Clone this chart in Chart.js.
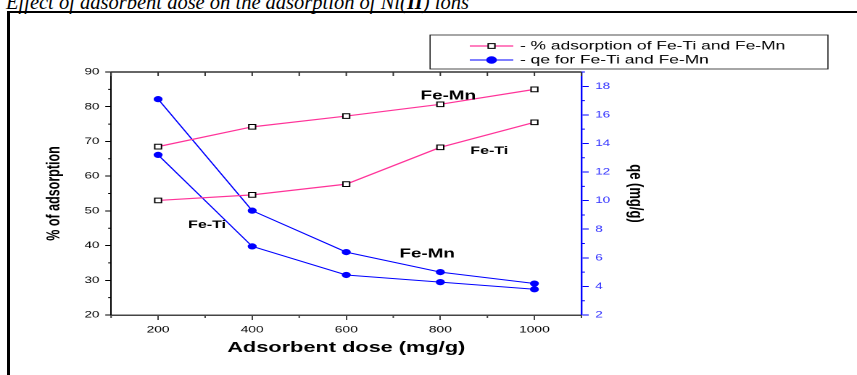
<!DOCTYPE html>
<html>
<head>
<meta charset="utf-8">
<script src="https://cdn.jsdelivr.net/npm/chart.js@4.4.0/dist/chart.umd.min.js"></script>
<style>
  html, body { margin: 0; padding: 0; background: #fff; }
  body { width: 857px; height: 375px; position: relative; overflow: hidden; }
  #caption { position: absolute; left: 6px; top: -8px; white-space: nowrap;
             font: italic 20.5px/20px "Liberation Serif", "Times New Roman", serif; color: #000; }
  #frame { position: absolute; left: 7px; top: 11px; right: -5px; bottom: -5px;
           border-top: 2px solid #000; border-left: 3px solid #000; }
  /* the source figure was stretched sideways, so the canvas is too */
  #chart { position: absolute; left: 0; top: 0; transform: scaleX(1.45); transform-origin: 0 0; }
</style>
</head>
<body>
<div id="caption">Effect of adsorbent dose on the adsorption of Ni(<b>II</b>) ions</div>
<div id="frame"></div>
<canvas id="chart" width="591" height="375"></canvas>
<script>
// ===== DATA =====
const doses = [200, 400, 600, 800, 1000];
const adsFeMn = [68.5, 74.2, 77.3, 80.7, 85.0];
const adsFeTi = [53.0, 54.6, 57.7, 68.3, 75.5];
const qeFeMn = [17.1, 9.3, 6.4, 5.0, 4.2];
const qeFeTi = [13.2, 6.8, 4.8, 4.3, 3.8];

const xTicks = [200, 400, 600, 800, 1000];
const xMinor = [100, 300, 500, 700, 900, 1100];
const leftTicks = [20, 30, 40, 50, 60, 70, 80, 90];
const leftMinor = [25, 35, 45, 55, 65, 75, 85];
const rightTicks = [2, 4, 6, 8, 10, 12, 14, 16, 18];
const rightMinor = [3, 5, 7, 9, 11, 13, 15, 17, 19];

const legendLabels = ['- % adsorption of Fe-Ti and Fe-Mn', '- qe for Fe-Ti and Fe-Mn'];

// curve names, anchored in data units (x axis / left axis)
const curveText = ['Fe-Mn', 'Fe-Ti', 'Fe-Ti', 'Fe-Mn'];
const curveX = [817, 904, 304, 772];
const curveY = [83.1, 67.2, 45.9, 37.6];

// ===== STYLE =====
const PINK = '#ff3399';
const BLUE = '#0000ff';
const FAM = '"Liberation Sans", Arial, sans-serif';
Chart.defaults.font.family = FAM;

const pts = (ys) => doses.map((d, i) => ({ x: d, y: ys[i] }));
const setTicks = (list) => (s) => { s.ticks = list.map(v => ({ value: v })); };
const plain = (v) => String(v);

const pinkSet = (label, ys) => ({
  label, data: pts(ys), yAxisID: 'y',
  borderColor: PINK, borderWidth: 1.2,
  pointStyle: 'rect', pointRadius: 3.3,
  pointBackgroundColor: '#fff', pointBorderColor: '#000', pointBorderWidth: 1,
});
const blueSet = (label, ys) => ({
  label, data: pts(ys), yAxisID: 'y1',
  borderColor: BLUE, borderWidth: 1,
  pointStyle: 'circle', pointRadius: 2.6,
  pointBackgroundColor: BLUE, pointBorderColor: BLUE, pointBorderWidth: 1,
});

// ===== EXTRA DRAWING: minor ticks, top border, legend, curve names =====
const extras = {
  id: 'extras',
  afterDraw(chart) {
    const ctx = chart.ctx;
    const { x, y, y1 } = chart.scales;
    const a = chart.chartArea;
    ctx.save();

    // top border with inward ticks
    ctx.strokeStyle = '#333';
    ctx.lineWidth = 1.5;
    ctx.beginPath();
    ctx.moveTo(a.left, a.top); ctx.lineTo(a.right, a.top);
    ctx.stroke();
    ctx.lineWidth = 1;
    ctx.beginPath();
    [...xTicks, ...xMinor].forEach(v => {
      const p = x.getPixelForValue(v);
      ctx.moveTo(p, a.top); ctx.lineTo(p, a.top + 4);
    });
    ctx.stroke();

    // minor ticks
    ctx.strokeStyle = '#000';
    ctx.beginPath();
    leftMinor.forEach(v => { const p = y.getPixelForValue(v); ctx.moveTo(a.left - 2, p); ctx.lineTo(a.left, p); });
    ctx.stroke();
    ctx.strokeStyle = '#444';
    ctx.beginPath();
    xMinor.forEach(v => { const p = x.getPixelForValue(v); ctx.moveTo(p, a.bottom); ctx.lineTo(p, a.bottom + 3); });
    ctx.stroke();
    ctx.strokeStyle = BLUE;
    ctx.beginPath();
    rightMinor.forEach(v => { const p = y1.getPixelForValue(v); ctx.moveTo(a.right, p); ctx.lineTo(a.right + 2.4, p); });
    ctx.stroke();

    // legend
    const lx = 296.6, ly = 35, lw = 274.4, lh = 34;
    ctx.fillStyle = '#fff';
    ctx.fillRect(lx, ly, lw, lh);
    ctx.strokeStyle = '#222';
    ctx.lineWidth = 0.8;
    ctx.strokeRect(lx, ly, lw, lh);
    const ds = chart.data.datasets;
    [ds[0], ds[2]].forEach((d, i) => {
      const ry = 46 + i * 14;
      ctx.strokeStyle = d.borderColor;
      ctx.lineWidth = d.borderWidth;
      ctx.beginPath();
      ctx.moveTo(324, ry); ctx.lineTo(354, ry);
      ctx.stroke();
      ctx.fillStyle = d.pointBackgroundColor;
      ctx.strokeStyle = d.pointBorderColor;
      ctx.lineWidth = d.pointBorderWidth;
      Chart.helpers.drawPoint(ctx, { pointStyle: d.pointStyle, radius: d.pointRadius + (i ? 0.6 : 0), borderWidth: 1 }, 339, ry);
      ctx.fillStyle = '#000';
      ctx.font = '12px ' + FAM;
      ctx.textAlign = 'left';
      ctx.textBaseline = 'middle';
      ctx.fillText(legendLabels[i], 358.6, ry);
    });

    // curve names
    ctx.fillStyle = '#000';
    ctx.textAlign = 'center';
    ctx.textBaseline = 'middle';
    curveText.forEach((t, i) => {
      ctx.font = 'bold ' + (t === 'Fe-Mn' ? 13 : 11) + 'px ' + FAM;
      ctx.fillText(t, x.getPixelForValue(curveX[i]), y.getPixelForValue(curveY[i]));
    });
    ctx.restore();
  }
};

// ===== CHART =====
new Chart(document.getElementById('chart'), {
  type: 'line',
  data: {
    datasets: [
      pinkSet('% adsorption Fe-Mn', adsFeMn),
      pinkSet('% adsorption Fe-Ti', adsFeTi),
      blueSet('qe Fe-Mn', qeFeMn),
      blueSet('qe Fe-Ti', qeFeTi),
    ]
  },
  options: {
    responsive: false,
    animation: false,
    devicePixelRatio: 2,
    layout: { padding: { left: 26, right: 141, top: 72, bottom: 14 } },
    plugins: { legend: { display: false }, tooltip: { enabled: false } },
    scales: {
      x: {
        type: 'linear', min: 100, max: 1100,
        afterBuildTicks: setTicks(xTicks),
        afterFit: s => { s.height = 46; },
        grid: { drawOnChartArea: false, tickLength: 5, color: '#444' },
        border: { color: '#444', width: 1.5 },
        ticks: { font: { size: 9.5 }, color: '#000', padding: 4, callback: plain },
        title: { display: true, text: 'Adsorbent dose (mg/g)', color: '#000',
                 font: { size: 15, weight: 'bold' }, padding: { top: 4, bottom: 4 } }
      },
      y: {
        position: 'left', min: 20, max: 90,
        afterBuildTicks: setTicks(leftTicks),
        afterFit: s => { s.width = 50.6; },
        grid: { drawOnChartArea: false, tickLength: 4, color: '#000' },
        border: { color: '#000', width: 1 },
        ticks: { font: { size: 9.3 }, color: '#000', padding: 4, callback: plain },
        title: { display: true, text: '% of adsorption', color: '#000',
                 font: { size: 12.5, weight: 'bold' }, padding: { top: 4, bottom: 4 } }
      },
      y1: {
        position: 'right', min: 2, max: 19,
        afterBuildTicks: setTicks(rightTicks),
        afterFit: s => { s.width = 49; },
        grid: { drawOnChartArea: false, tickLength: 5, color: BLUE },
        border: { color: BLUE, width: 1.2 },
        ticks: { font: { size: 9.3 }, color: '#3333ff', padding: 4.5, callback: plain },
        title: { display: true, text: 'qe (mg/g)', color: '#000',
                 font: { size: 13, weight: 'bold' }, padding: { top: 4, bottom: 4 } }
      }
    }
  },
  plugins: [extras]
});
</script>
</body>
</html>
